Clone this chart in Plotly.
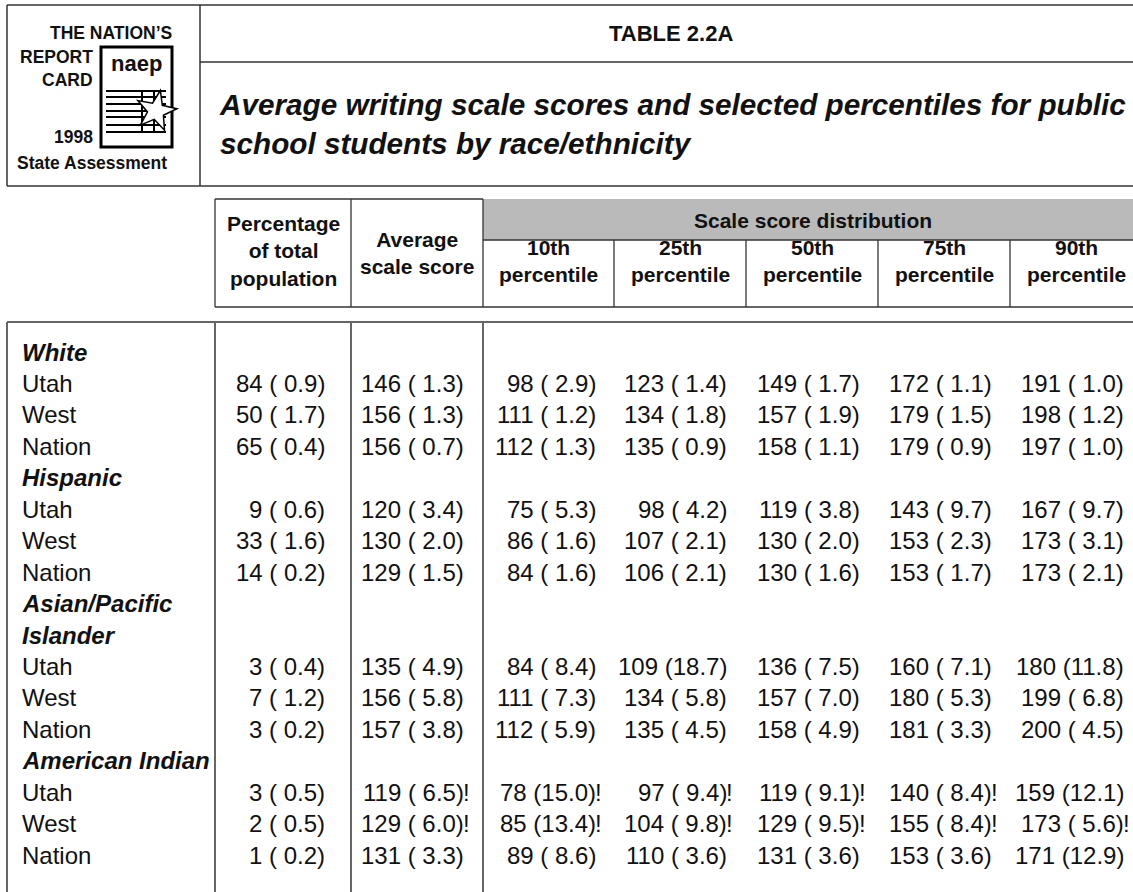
import numpy as np
import plotly.graph_objects as go

# ---------------- data ----------------
groups = ["White", "Hispanic", "Asian/Pacific Islander", "American Indian"]
jurisdictions = ["Utah", "West", "Nation"]

pct = [84, 50, 65, 9, 33, 14, 3, 7, 3, 3, 2, 1]
pct_se = [0.9, 1.7, 0.4, 0.6, 1.6, 0.2, 0.4, 1.2, 0.2, 0.5, 0.5, 0.2]

avg = [146, 156, 156, 120, 130, 129, 135, 156, 157, 119, 129, 131]
avg_se = [1.3, 1.3, 0.7, 3.4, 2.0, 1.5, 4.9, 5.8, 3.8, 6.5, 6.0, 3.3]

p10 = [98, 111, 112, 75, 86, 84, 84, 111, 112, 78, 85, 89]
p10_se = [2.9, 1.2, 1.3, 5.3, 1.6, 1.6, 8.4, 7.3, 5.9, 15.0, 13.4, 8.6]

p25 = [123, 134, 135, 98, 107, 106, 109, 134, 135, 97, 104, 110]
p25_se = [1.4, 1.8, 0.9, 4.2, 2.1, 2.1, 18.7, 5.8, 4.5, 9.4, 9.8, 3.6]

p50 = [149, 157, 158, 119, 130, 130, 136, 157, 158, 119, 129, 131]
p50_se = [1.7, 1.9, 1.1, 3.8, 2.0, 1.6, 7.5, 7.0, 4.9, 9.1, 9.5, 3.6]

p75 = [172, 179, 179, 143, 153, 153, 160, 180, 181, 140, 155, 153]
p75_se = [1.1, 1.5, 0.9, 9.7, 2.3, 1.7, 7.1, 5.3, 3.3, 8.4, 8.4, 3.6]

p90 = [191, 198, 197, 167, 173, 173, 180, 199, 200, 159, 173, 171]
p90_se = [1.0, 1.2, 1.0, 9.7, 3.1, 2.1, 11.8, 6.8, 4.5, 12.1, 5.6, 12.9]

# "!" = interpret with caution (reliability flag)
pct_flag = [False] * 12
avg_flag = [False] * 9 + [True, True, False]
p10_flag = [False] * 9 + [True, True, False]
p25_flag = [False] * 9 + [True, True, False]
p50_flag = [False] * 9 + [True, True, False]
p75_flag = [False] * 9 + [True, True, False]
p90_flag = [False] * 9 + [False, True, False]

col_headers = ["Percentage<br>of total<br>population", "Average<br>scale score",
               "10th<br>percentile", "25th<br>percentile", "50th<br>percentile",
               "75th<br>percentile", "90th<br>percentile"]
spanner = "Scale score distribution"
table_title = "TABLE 2.2A"
subtitle_lines = ["Average writing scale scores and selected percentiles for public",
                  "school students by race/ethnicity"]

# ---------------- layout helpers ----------------
W, H = 1133, 892
FONT = "Liberation Sans, Arial, Helvetica, sans-serif"
BLACK = "#111111"

col_edges = [215, 351, 483, 614, 746, 878, 1010, 1142]
col_right = [327, 466, 598, 729, 862, 994, 1126]

fig = go.Figure()
shapes = []
ann = []


def line(x0, y0, x1, y1, color="#333333", width=1.3):
    shapes.append(dict(type="line", xref="x", yref="y", x0=x0, y0=y0, x1=x1, y1=y1,
                       line=dict(color=color, width=width)))


def text(x, y, s, size=24, bold=False, italic=False, xanchor="left", yanchor="middle",
         align="left", family=FONT):
    if bold:
        s = "<b>" + s.replace("<br>", "</b><br><b>") + "</b>"
    if italic:
        s = "<i>" + s.replace("<br>", "</i><br><i>") + "</i>"
    ann.append(dict(x=x, y=y, xref="x", yref="y", text=s, showarrow=False,
                    xanchor=xanchor, yanchor=yanchor, align=align,
                    font=dict(family=family, size=size, color=BLACK)))


# ---------------- title box ----------------
line(7, 5, W, 5, width=1.5)
line(7, 186, W, 186, width=1.5)
line(7, 5, 7, 186, width=1.5)
line(200, 5, 200, 186, width=1.5)
line(200, 62, W, 62, width=1.5)

text(671, 33, table_title, size=22, bold=True, xanchor="center")
text(217, 124, "<br>".join(subtitle_lines), size=29.7, bold=True, italic=True)

# logo
LF = FONT
text(174, 33, "THE NATION\u2019S", size=17.5, bold=True, xanchor="right", family=LF)
text(95, 57, "REPORT", size=17.5, bold=True, xanchor="right", family=LF)
text(95, 80, "CARD", size=17.5, bold=True, xanchor="right", family=LF)
text(95, 137, "1998", size=17.5, bold=True, xanchor="right", family=LF)
text(92, 163, "State Assessment", size=17.5, bold=True, xanchor="center", family=LF)
shapes.append(dict(type="rect", xref="x", yref="y", x0=101, y0=47, x1=172, y1=147,
                   line=dict(color="#000000", width=3), fillcolor="white"))
text(136, 63, "naep", size=22, bold=True, xanchor="center", family=LF)
for yy in [91, 97, 104, 111, 117, 125, 132]:
    line(106, yy, 166, yy, color="#000000", width=2)
line(142, 91, 142, 132, color="#000000", width=2)
line(154, 91, 154, 132, color="#000000", width=2)
ang = np.deg2rad(np.arange(10) * 36 - 90 + 12)
rad = np.where(np.arange(10) % 2 == 0, 21, 8.5)
sx = 156 + rad * np.cos(ang)
sy = 111 + rad * np.sin(ang)
path = "M " + " L ".join(f"{a:.1f},{b:.1f}" for a, b in zip(sx, sy)) + " Z"
shapes.append(dict(type="path", xref="x", yref="y", path=path,
                   line=dict(color="#000000", width=1.5), fillcolor="white"))

# ---------------- column header ----------------
shapes.append(dict(type="rect", xref="x", yref="y", x0=483, y0=199, x1=col_edges[-1], y1=240,
                   line=dict(width=0), fillcolor="#bababa", layer="below"))
line(215, 199, 483, 199)
line(483, 240, col_edges[-1], 240)
line(215, 307, col_edges[-1], 307)
for i, xe in enumerate(col_edges[:-1]):
    y0 = 199 if i <= 2 else 240
    line(xe, y0, xe, 307)

text((col_edges[0] + col_edges[1]) / 2, 251, col_headers[0], size=21, bold=True,
     xanchor="center", align="center")
text((col_edges[1] + col_edges[2]) / 2, 253, col_headers[1], size=21, bold=True,
     xanchor="center", align="center")
text((col_edges[2] + col_edges[-1]) / 2, 220, spanner, size=21, bold=True, xanchor="center")
for j in range(2, 7):
    text((col_edges[j] + col_edges[j + 1]) / 2, 261, col_headers[j], size=21, bold=True,
         xanchor="center", align="center")

# ---------------- body ----------------
line(7, 322, W, 322, color="#666666", width=2.2)
for xe in [7, 215, 351, 483]:
    line(xe, 322, xe, H, color="#666666", width=2)

Y0, PITCH = 352, 31.45
columns = [(pct, pct_se, pct_flag), (avg, avg_se, avg_flag), (p10, p10_se, p10_flag),
           (p25, p25_se, p25_flag), (p50, p50_se, p50_flag), (p75, p75_se, p75_flag),
           (p90, p90_se, p90_flag)]

row = 0
k = 0
for g in groups:
    parts = g.rsplit(" ", 1) if len(g) > 16 else [g]
    for p in parts:
        text(20, Y0 + row * PITCH, p, size=24, bold=True, italic=True)
        row += 1
    for jur in jurisdictions:
        y = Y0 + row * PITCH
        text(20, y, jur, size=24)
        for c, (vals, ses, flags) in enumerate(columns):
            s = f"{vals[k]} ({ses[k]:4.1f})".replace(" ", "\u00a0")
            text(col_right[c], y, s, size=24, xanchor="right")
            if flags[k]:
                text(col_right[c] - 5, y, "!", size=24, xanchor="left")
        row += 1
        k += 1

fig.update_layout(
    width=W, height=H, margin=dict(l=0, r=0, t=0, b=0),
    paper_bgcolor="white", plot_bgcolor="white",
    xaxis=dict(range=[0, W], visible=False, fixedrange=True),
    yaxis=dict(range=[H, 0], visible=False, fixedrange=True),
    shapes=shapes, annotations=ann, showlegend=False,
)
fig.write_html("out.html", config={"displayModeBar": False},
               post_script="document.body.style.margin='0px';document.body.style.overflow='hidden';")
